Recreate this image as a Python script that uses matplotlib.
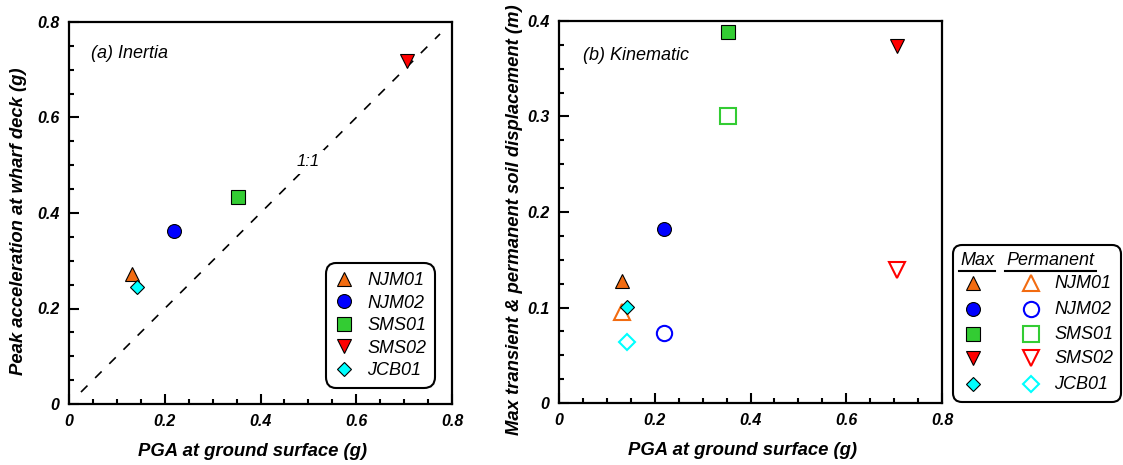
import matplotlib
matplotlib.use('Agg')
import matplotlib.pyplot as plt
from matplotlib.ticker import MultipleLocator, FuncFormatter
from matplotlib.patches import FancyBboxPatch

plt.rcParams['font.family'] = ['Liberation Sans', 'DejaVu Sans']
plt.rcParams['font.weight'] = 'bold'
plt.rcParams['font.style'] = 'italic'
plt.rcParams['axes.labelweight'] = 'bold'

# ---------------- data ----------------
sites = ['NJM01', 'NJM02', 'SMS01', 'SMS02', 'JCB01']
markers = ['^', 'o', 's', 'v', 'D']
colors = ['#f26b10', '#0000ff', '#33cc33', '#ff0000', '#00ffff']
marker_sizes = [10, 10, 10, 10, 7]

pga = [0.132, 0.219, 0.352, 0.705, 0.142]
deck_acc = [0.272, 0.363, 0.434, 0.718, 0.246]
max_disp = [0.128, 0.1825, 0.389, 0.374, 0.101]
perm_disp = [0.095, 0.073, 0.3005, 0.139, 0.0635]

one_to_one = [0.025, 0.775]

W, H = 1123, 465
fig = plt.figure(figsize=(W / 100, H / 100), dpi=100)

def px_axes(l, t, r, b):
    return fig.add_axes([l / W, 1 - b / H, (r - l) / W, (b - t) / H])

ax1 = px_axes(69, 22, 452, 404)
ax2 = px_axes(559, 21, 942, 403)

def fmt(v, pos):
    return '0' if abs(v) < 1e-9 else f'{v:.1f}'

def style_axes(ax, ymax, ymajor, yminor, ylabel, ylabelpad):
    ax.set_xlim(0, 0.8)
    ax.set_ylim(0, ymax)
    ax.xaxis.set_major_locator(MultipleLocator(0.2))
    ax.xaxis.set_minor_locator(MultipleLocator(0.05))
    ax.yaxis.set_major_locator(MultipleLocator(ymajor))
    ax.yaxis.set_minor_locator(MultipleLocator(yminor))
    ax.xaxis.set_major_formatter(FuncFormatter(fmt))
    ax.yaxis.set_major_formatter(FuncFormatter(fmt))
    ax.tick_params(which='both', direction='in', top=False, right=False,
                   width=1.5, labelsize=11.5)
    ax.tick_params(which='major', length=7.2, pad=7)
    ax.tick_params(which='minor', length=3.8)
    for s in ax.spines.values():
        s.set_linewidth(1.6)
    ax.set_xlabel('PGA at ground surface (g)', fontsize=13.3, fontweight='bold',
                  labelpad=10)
    ax.set_ylabel(ylabel, fontsize=13.3, fontweight='bold', labelpad=ylabelpad)
    ax.xaxis.label.set_x(0.48)
    ax.yaxis.label.set_y(0.479)

# ---------------- panel (a) ----------------
ax1.plot(one_to_one, one_to_one, ls=(0, (5.5, 6.5)), color='black', lw=1.2, zorder=1)
for s, m, c, ms, x, y in zip(sites, markers, colors, marker_sizes, pga, deck_acc):
    ax1.plot(x, y, ls='none', marker=m, ms=ms, mfc=c, mec='black', mew=0.8,
             label=s, zorder=3)
style_axes(ax1, 0.8, 0.2, 0.05, 'Peak acceleration at wharf deck (g)', 7)
ax1.text(0.045, 0.734, '(a) Inertia', fontsize=13, fontweight='normal',
         fontstyle='italic', va='center', ha='left')
ax1.text(0.476, 0.507, '1:1', fontsize=12, fontweight='normal',
         fontstyle='italic', va='center', ha='left', zorder=2,
         bbox=dict(fc='white', ec='none', pad=3))
leg = ax1.legend(loc='lower right', bbox_to_anchor=(0.956, 0.042),
                 borderaxespad=0, frameon=True, fancybox=True,
                 prop={'style': 'italic', 'weight': 'normal', 'size': 13},
                 handlelength=1.0, handletextpad=0.8, labelspacing=0.3,
                 borderpad=0.5, framealpha=1)
fr = leg.get_frame()
fr.set_edgecolor('black')
fr.set_linewidth(1.5)
fr.set_boxstyle('round,pad=0,rounding_size=0.6')

# ---------------- panel (b) ----------------
for s, m, c, ms, x, y in zip(sites, markers, colors, marker_sizes, pga, max_disp):
    ax2.plot(x, y, ls='none', marker=m, ms=ms, mfc=c, mec='black', mew=0.8, zorder=3)
for s, m, c, ms, x, y in zip(sites, markers, colors, marker_sizes, pga, perm_disp):
    ax2.plot(x, y, ls='none', marker=m, ms=ms + 1, mfc='white', mec=c, mew=1.5, zorder=2)
style_axes(ax2, 0.4, 0.1, 0.025, 'Max transient & permanent soil displacement (m)', 3)
ax2.text(0.051, 0.364, '(b) Kinematic', fontsize=13, fontweight='normal',
         fontstyle='italic', va='center', ha='left')

# ---------------- legend (b), drawn in its own small axes ----------------
lax = px_axes(952, 244, 1122, 403)
lax.set_xlim(0, 170)
lax.set_ylim(0, 159)
lax.axis('off')
box = FancyBboxPatch((1, 1), 168, 157, boxstyle='round,pad=0,rounding_size=9',
                     fc='white', ec='black', lw=1.5, clip_on=False)
lax.add_patch(box)
row_y = [120, 94, 69, 45, 19]
tkw = dict(fontsize=13, fontweight='normal', fontstyle='italic', va='center')
lax.text(25, 143, 'Max', ha='center', **tkw)
lax.text(98.5, 143, 'Permanent', ha='center', **tkw)
lax.plot([7, 43], [132, 132], color='black', lw=1.5)
lax.plot([53, 144], [132, 132], color='black', lw=1.5)
for s, m, c, ms, y in zip(sites, markers, colors, marker_sizes, row_y):
    lax.plot(21, y, ls='none', marker=m, ms=ms, mfc=c, mec='black', mew=0.8, clip_on=False)
    lax.plot(79, y, ls='none', marker=m, ms=ms + 1, mfc='white', mec=c, mew=1.5, clip_on=False)
    lax.text(102, y, s, ha='left', **tkw)

fig.savefig('out.png', dpi=100)
